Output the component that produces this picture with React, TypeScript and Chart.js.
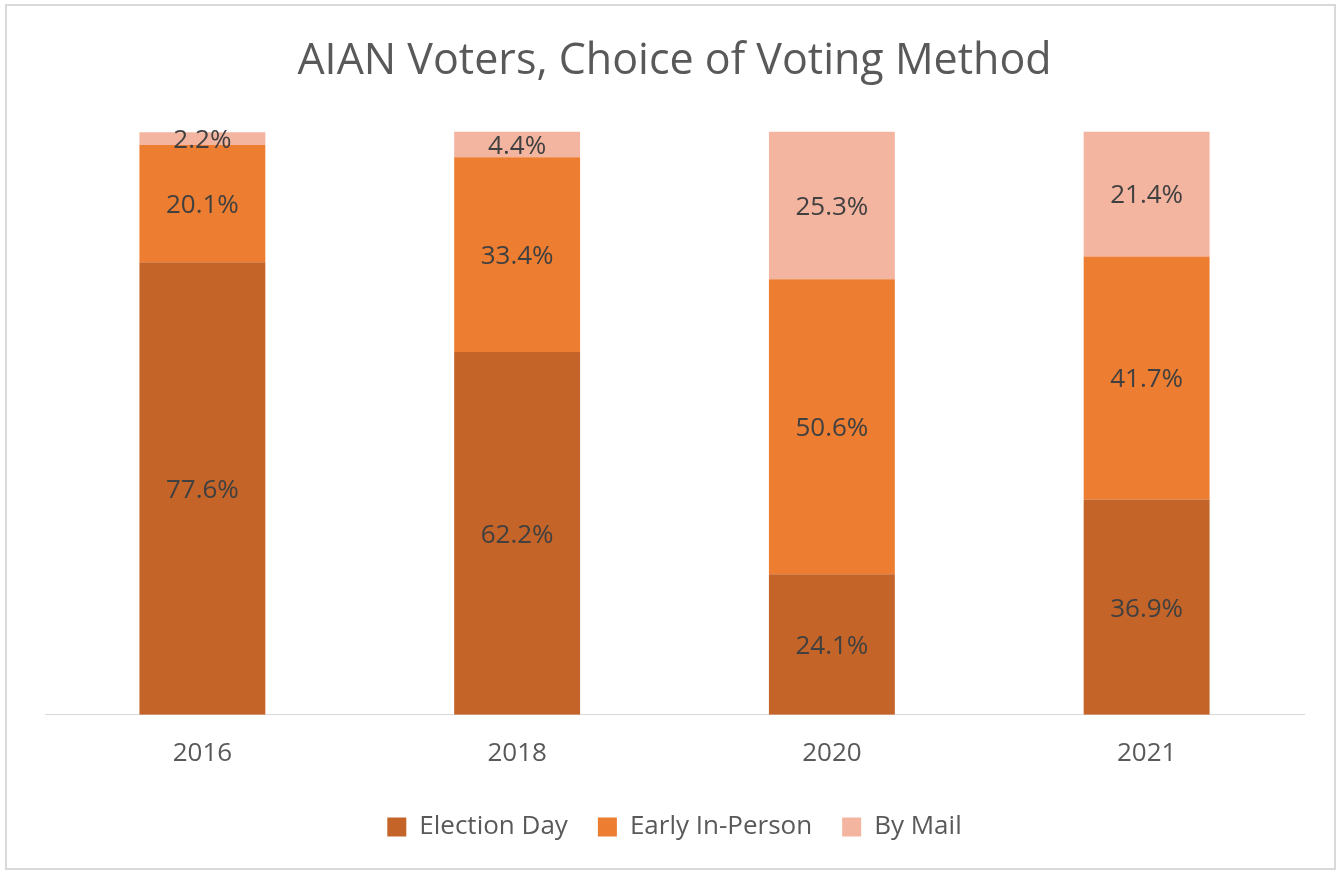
import React, { useEffect, useRef } from "react";
import { Chart, registerables } from "chart.js";

Chart.register(...registerables);

const years = ["2016", "2018", "2020", "2021"];
const electionDay = [77.6, 62.2, 24.1, 36.9];
const earlyInPerson = [20.1, 33.4, 50.6, 41.7];
const byMail = [2.2, 4.4, 25.3, 21.4];

const FONT = "'Open Sans', 'DejaVu Sans', sans-serif";

const labelPlugin = {
  id: "segLabels",
  afterDatasetsDraw(chart: any) {
    const ctx = chart.ctx;
    ctx.save();
    ctx.font = `26px ${FONT}`;
    ctx.fillStyle = "#404040";
    ctx.textAlign = "center";
    ctx.textBaseline = "middle";
    chart.data.datasets.forEach((ds: any, di: number) => {
      const meta = chart.getDatasetMeta(di);
      meta.data.forEach((el: any, i: number) => {
        const { x, y, base } = el.getProps(["x", "y", "base"], true);
        const v = ds.data[i];
        ctx.fillText(v.toFixed(1) + "%", x, (y + base) / 2 + 2);
      });
    });
    ctx.restore();
  },
};

export default function App() {
  const ref = useRef<HTMLCanvasElement>(null);
  useEffect(() => {
    if (!ref.current) return;
    const chart = new Chart(ref.current, {
      type: "bar",
      data: {
        labels: years,
        datasets: [
          { label: "Election Day", data: electionDay, backgroundColor: "#C46428" },
          { label: "Early In-Person", data: earlyInPerson, backgroundColor: "#ED7D31" },
          { label: "By Mail", data: byMail, backgroundColor: "#F4B5A0" },
        ],
      },
      options: {
        responsive: false,
        animation: false,
        datasets: { bar: { categoryPercentage: 1, barPercentage: 0.4 } },
        layout: { padding: { left: 45, right: 39, top: 20, bottom: 21 } },
        scales: {
          x: {
            stacked: true,
            grid: { display: false },
            border: { display: true, color: "#d9d9d9", width: 1 },
            ticks: { color: "#595959", font: { family: FONT, size: 26 }, padding: 15 },
          },
          y: { stacked: true, display: false, min: 0, max: 100 },
        },
        plugins: {
          tooltip: { enabled: false },
          title: {
            display: true,
            text: "AIAN Voters, Choice of Voting Method",
            color: "#595959",
            font: { family: FONT, size: 43, weight: "normal" },
            padding: { top: 16, bottom: 44 },
          },
          legend: {
            position: "bottom",
            labels: {
              color: "#595959",
              font: { family: FONT, size: 26 },
              boxWidth: 19,
              boxHeight: 19,
              padding: 30,
            },
          },
        },
      },
      plugins: [labelPlugin],
    });
    return () => chart.destroy();
  }, []);
  return (
    <div style={{ position: "fixed", left: 0, top: 0, width: 1343, height: 871, background: "#fff" }}>
      <canvas ref={ref} width={1343} height={871} style={{ position: "absolute", left: 0, top: 0 }} />
      <div
        style={{
          position: "absolute",
          left: 5,
          top: 4,
          width: 1331,
          height: 866,
          border: "2px solid #d9d9d9",
          boxSizing: "border-box",
          pointerEvents: "none",
        }}
      />
    </div>
  );
}
